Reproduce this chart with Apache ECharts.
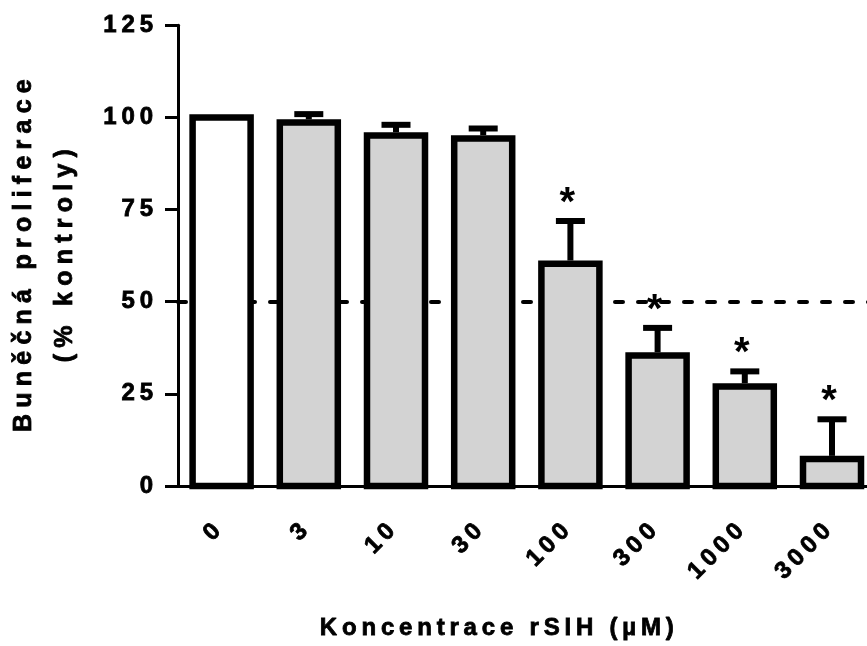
<!DOCTYPE html>
<html>
<head>
<meta charset="utf-8">
<script src="https://cdn.jsdelivr.net/npm/echarts@6/dist/echarts.min.js"></script>
<style>
  html, body { margin: 0; padding: 0; background: #ffffff; }
  #chart { width: 867px; height: 646px; }
</style>
</head>
<body>
<div id="chart"></div>
<script>
// ---- data ----
const categories = ['0', '3', '10', '30', '100', '300', '1000', '3000'];
const means = [100, 98.6, 95.1, 94.3, 60.3, 35.4, 27.0, 7.3];
const errors = [0, 2.3, 2.9, 2.7, 11.6, 7.5, 4.1, 10.8];
const significant = [false, false, false, false, true, true, true, true];
const yTicks = { min: 0, max: 125, interval: 25 };
const referenceLine = 50;
const xTitle = 'Koncentrace rSIH (µM)';
const yTitle = ['Buněčná proliferace', '(% kontroly)'];

// ---- styles ----
const FONT = "'Liberation Sans', Arial, Helvetica, sans-serif";
const controlColor = '#ffffff';
const treatedColor = '#d3d3d3';
const BAR_W = 58, BORDER = 6.5, ERR_W = 6, CAP_HALF = 14.5;
const heavy = { textBorderColor: '#000', textBorderWidth: 0.8 };
const spaced = (s, sep) => s.split('').join(sep);

const seriesData = means.map((v, i) => [i, v, errors[i], significant[i] ? 1 : 0]);

const chart = echarts.init(document.getElementById('chart'), null, { renderer: 'canvas' });
chart.setOption({
  animation: false,
  backgroundColor: '#ffffff',
  grid: { left: 178, right: -8.6, top: 25.3, bottom: 160, containLabel: false, outerBoundsMode: 'none' },
  xAxis: {
    type: 'category',
    data: categories,
    boundaryGap: true,
    axisLine: { lineStyle: { color: '#000', width: 3 } },
    axisTick: { alignWithLabel: true, length: 13, lineStyle: { color: '#000', width: 3 } },
    axisLabel: Object.assign({
      rotate: 45, margin: 37, interval: 0,
      color: '#000', fontFamily: FONT, fontWeight: 'bold', fontSize: 24,
      formatter: v => spaced(v, '\u2009') + ' '
    }, heavy),
    name: spaced(xTitle, '\u2009'),
    nameLocation: 'middle',
    nameGap: 130,
    nameTextStyle: Object.assign({ color: '#000', fontFamily: FONT, fontWeight: 'bold', fontSize: 24, padding: [0, 60, 0, 0] }, heavy)
  },
  yAxis: {
    type: 'value',
    min: yTicks.min, max: yTicks.max, interval: yTicks.interval,
    splitLine: { show: false },
    axisLine: { show: true, lineStyle: { color: '#000', width: 3 } },
    axisTick: { show: true, length: 13, lineStyle: { color: '#000', width: 3 } },
    axisLabel: Object.assign({
      margin: 25, color: '#000', fontFamily: FONT, fontWeight: 'bold', fontSize: 24,
      formatter: v => spaced(String(v), '\u2009')
    }, heavy),
    name: yTitle.map(t => spaced(t, '\u2005')).join('\n'),
    nameLocation: 'middle',
    nameRotate: 90,
    nameGap: 92,
    nameTextStyle: Object.assign({ color: '#000', fontFamily: FONT, fontWeight: 'bold', fontSize: 25, lineHeight: 41 }, heavy)
  },
  series: [
    {
      type: 'custom',
      name: 'bars',
      z: 2,
      data: seriesData,
      renderItem: function (params, api) {
        const i = api.value(0), m = api.value(1);
        const top = api.coord([i, m]);
        const bottom = api.coord([i, 0]);
        return {
          type: 'rect',
          shape: { x: top[0] - BAR_W / 2, y: top[1], width: BAR_W, height: bottom[1] - top[1] },
          style: { fill: i === 0 ? controlColor : treatedColor, stroke: '#000', lineWidth: BORDER }
        };
      },
      markLine: {
        z: 1,
        silent: true,
        symbol: 'none',
        label: { show: false },
        lineStyle: { color: '#000', width: 4, type: [8, 15], cap: 'round' },
        data: [{ yAxis: referenceLine }]
      }
    },
    {
      type: 'custom',
      name: 'errors',
      z: 3,
      data: seriesData,
      renderItem: function (params, api) {
        const i = api.value(0), m = api.value(1), e = api.value(2), sig = api.value(3);
        const base = api.coord([i, m]);
        const top = api.coord([i, m + e]);
        const children = [];
        if (e > 0) {
          children.push({ type: 'line', shape: { x1: base[0], y1: base[1] - BORDER / 2, x2: top[0], y2: top[1] },
            style: { stroke: '#000', lineWidth: ERR_W } });
          children.push({ type: 'line', shape: { x1: top[0] - CAP_HALF, y1: top[1], x2: top[0] + CAP_HALF, y2: top[1] },
            style: { stroke: '#000', lineWidth: ERR_W } });
        }
        if (sig) {
          children.push({ type: 'text', x: top[0] - 3, y: top[1] - 17,
            style: { text: '*', fill: '#000', font: 'bold 40px ' + FONT, align: 'center', verticalAlign: 'middle' } });
        }
        return { type: 'group', children: children };
      }
    }
  ]
});
</script>
</body>
</html>
